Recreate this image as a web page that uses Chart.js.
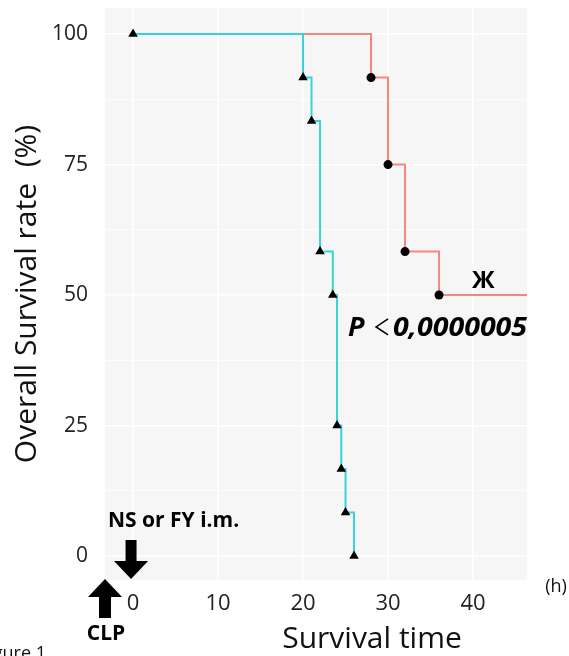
<!DOCTYPE html>
<html>
<head>
<meta charset="utf-8">
<script src="https://cdn.jsdelivr.net/npm/chart.js@4"></script>
<style>
  html, body { margin: 0; padding: 0; background: #fff; }
  #wrap { width: 569px; height: 656px; }
</style>
</head>
<body>
<div id="wrap"><canvas id="km" width="569" height="656"></canvas></div>
<script>
// Kaplan-Meier steps (time in h, survival in %)
const nsTimes = [0, 20, 21, 22, 23.5, 24, 24.5, 25, 26];
const nsSurvival = [100, 91.67, 83.33, 58.33, 50, 25, 16.67, 8.33, 0];
const fyTimes = [0, 28, 30, 32, 36, 48];
const fySurvival = [100, 91.67, 75, 58.33, 50, 50];

const xTickValues = [0, 10, 20, 30, 40];
const yTickValues = [0, 12.5, 25, 37.5, 50, 62.5, 75, 87.5, 100];
const yTickLabels = ["0", "", "25", "", "50", "", "75", "", "100"];

const FONT = "'Open Sans', 'Noto Sans', sans-serif";
Chart.defaults.font.family = FONT;

const toPoints = (xs, ys) => xs.map((x, i) => ({ x: x, y: ys[i] }));

// Panel background, annotations and the two arrows
const decorations = {
  id: "decorations",
  beforeDraw(chart) {
    const { ctx, chartArea: a } = chart;
    ctx.save();
    ctx.fillStyle = "#F6F6F6";
    ctx.fillRect(a.left, a.top, a.right - a.left, a.bottom - a.top);
    ctx.restore();
  },
  afterDraw(chart) {
    const { ctx, chartArea: a } = chart;
    const xs = chart.scales.x, ys = chart.scales.y;
    ctx.save();
    ctx.fillStyle = "#000";

    // censor mark
    ctx.font = "bold 24px " + FONT;
    ctx.textAlign = "center";
    ctx.textBaseline = "middle";
    ctx.fillText("Ж", xs.getPixelForValue(41.2), ys.getPixelForValue(52.7));

    // p value
    const px = xs.getPixelForValue(25.3);
    const py = ys.getPixelForValue(43.7);
    ctx.textAlign = "left";
    ctx.font = "italic bold 27px " + FONT;
    ctx.fillText("P", px, py);
    // thin "<" drawn as two strokes, like the math glyph in the figure
    ctx.strokeStyle = "#000";
    ctx.lineWidth = 1.6;
    ctx.beginPath();
    ctx.moveTo(px + 40, py - 9);
    ctx.lineTo(px + 28, py - 1);
    ctx.lineTo(px + 40, py + 7);
    ctx.stroke();
    const num = "0,0000005";
    const w = ctx.measureText(num).width;
    ctx.save();
    ctx.translate(px + 45, py);
    ctx.scale(134 / w, 1);
    ctx.fillText(num, 0, 0);
    ctx.restore();

    // treatment label + down arrow at t = 0
    ctx.font = "bold 21px " + FONT;
    ctx.fillText("NS or FY i.m.", 108, 521);
    const x0 = xs.getPixelForValue(0) - 2;
    const tip = a.bottom - 1;
    ctx.beginPath();
    ctx.moveTo(x0 - 5.5, tip - 39);
    ctx.lineTo(x0 + 5.5, tip - 39);
    ctx.lineTo(x0 + 5.5, tip - 18);
    ctx.lineTo(x0 + 17, tip - 18);
    ctx.lineTo(x0, tip);
    ctx.lineTo(x0 - 17, tip - 18);
    ctx.lineTo(x0 - 5.5, tip - 18);
    ctx.closePath();
    ctx.fill();

    // CLP up arrow at the panel corner
    const ux = a.left;
    const ut = a.bottom - 1;
    ctx.beginPath();
    ctx.moveTo(ux, ut);
    ctx.lineTo(ux + 17, ut + 18);
    ctx.lineTo(ux + 6, ut + 18);
    ctx.lineTo(ux + 6, ut + 39);
    ctx.lineTo(ux - 6, ut + 39);
    ctx.lineTo(ux - 6, ut + 18);
    ctx.lineTo(ux - 17, ut + 18);
    ctx.closePath();
    ctx.fill();
    ctx.textAlign = "center";
    ctx.fillText("CLP", 106, 634);

    // axis title, unit and figure caption
    ctx.fillStyle = "#111";
    ctx.font = "30px " + FONT;
    ctx.fillText("Survival time", 372, 639);
    ctx.font = "18px " + FONT;
    ctx.fillText("(h)", 556, 587);
    ctx.textAlign = "right";
    ctx.textBaseline = "alphabetic";
    ctx.font = "18px " + FONT;
    ctx.fillText("Figure 1", 46, 659);
    ctx.restore();
  }
};

new Chart(document.getElementById("km"), {
  type: "line",
  data: {
    datasets: [
      {
        label: "NS",
        data: toPoints(nsTimes, nsSurvival),
        stepped: "before",
        borderColor: "#36D3DA",
        borderWidth: 2,
        pointStyle: "triangle",
        pointRadius: 5.5,
        pointBackgroundColor: "#000",
        pointBorderColor: "#000",
        pointBorderWidth: 0
      },
      {
        label: "FY",
        data: toPoints(fyTimes, fySurvival),
        stepped: "before",
        borderColor: "#F4877F",
        borderWidth: 2,
        pointStyle: "circle",
        pointRadius: ctx => (ctx.dataIndex === 0 || ctx.dataIndex === fyTimes.length - 1) ? 0 : 4.5,
        pointBackgroundColor: "#000",
        pointBorderColor: "#000",
        pointBorderWidth: 0
      }
    ]
  },
  options: {
    responsive: false,
    animation: false,
    layout: { padding: { top: 8, right: 42, left: 0, bottom: 0 } },
    plugins: { legend: { display: false }, tooltip: { enabled: false } },
    scales: {
      x: {
        type: "linear",
        min: -3.3,
        max: 46.35,
        afterFit: s => { s.height = 76; s.paddingLeft = 0; s.paddingRight = 0; },
        afterBuildTicks: s => { s.ticks = xTickValues.map(v => ({ value: v })); },
        border: { display: false },
        grid: { color: "#FFFFFF", lineWidth: 1.5, drawTicks: false },
        ticks: { color: "#222", font: { size: 22 }, padding: 11, maxRotation: 0 }
      },
      y: {
        type: "linear",
        min: -4.6,
        max: 105,
        afterFit: s => { s.width = 105; s.paddingTop = 0; s.paddingBottom = 0; },
        afterBuildTicks: s => { s.ticks = yTickValues.map(v => ({ value: v })); },
        border: { display: false },
        grid: {
          color: "#FFFFFF",
          lineWidth: ctx => (ctx.tick && ctx.tick.value % 25 === 0) ? 1.5 : 0.8,
          drawTicks: false
        },
        ticks: {
          color: "#222",
          font: { size: 21 },
          padding: 17,
          callback: (v, i) => yTickLabels[i]
        },
        title: {
          display: true,
          text: "Overall Survival rate  (%)",
          color: "#111",
          font: { size: 30 },
          padding: { top: 9 }
        }
      }
    }
  },
  plugins: [decorations]
});
</script>
</body>
</html>
